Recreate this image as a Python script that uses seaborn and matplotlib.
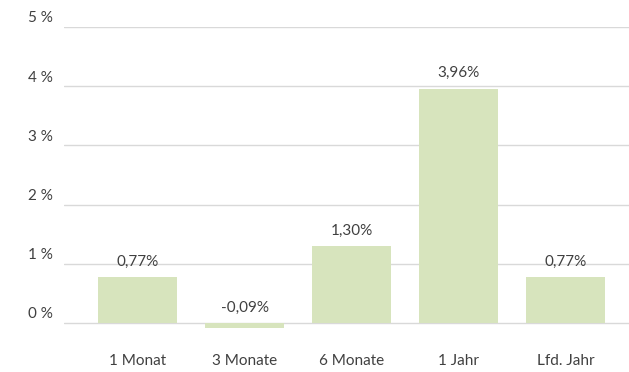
import matplotlib
matplotlib.use("Agg")
import matplotlib.pyplot as plt
from matplotlib.transforms import ScaledTranslation
import seaborn as sns
import pandas as pd

periods = ["1 Monat", "3 Monate", "6 Monate", "1 Jahr", "Lfd. Jahr"]
returns = [0.77, -0.09, 1.30, 3.96, 0.77]
y_ticks = [0, 1, 2, 3, 4, 5]

df = pd.DataFrame({"Zeitraum": periods, "Rendite": returns})

sns.set_theme(style="white")
plt.rcParams["font.family"] = ["Lato", "DejaVu Sans"]

text_color = "#404040"
bar_color = "#d7e4bd"
fs = 11

fig = plt.figure(figsize=(6.29, 3.72), dpi=100)
ax = fig.add_axes([64 / 629, 1 - 352.6 / 372, 1 - 64 / 629, (352.6 - 27) / 372])

sns.barplot(data=df, x="Zeitraum", y="Rendite", color=bar_color,
            saturation=1, width=0.74, linewidth=0, ax=ax, zorder=3)

ax.set_xlim(-0.687, 4.593)
ax.set_ylim(-0.5, 5)
ax.set_yticks(y_ticks)
ax.set_yticklabels([f"{t} %" for t in y_ticks])
ax.yaxis.grid(True, color="#d9d9d9", linewidth=1.0, zorder=0)
ax.set_axisbelow(True)
for s in ax.spines.values():
    s.set_visible(False)
ax.set_xlabel("")
ax.set_ylabel("")
ax.tick_params(axis="y", length=0, pad=8, labelsize=fs, labelcolor=text_color)
ax.tick_params(axis="x", length=0, pad=1.0, labelsize=fs, labelcolor=text_color)

# lift the y tick labels above their gridlines
shift = ScaledTranslation(0, 10 / 100, fig.dpi_scale_trans)
for lbl in ax.get_yticklabels():
    lbl.set_transform(lbl.get_transform() + shift)

# value labels above each bar
for i, v in enumerate(returns):
    txt = f"{v:.2f}".replace(".", ",") + "%"
    ax.annotate(txt, xy=(i, max(v, 0)), xytext=(0, 6), textcoords="offset points",
                ha="center", va="bottom", fontsize=fs, color=text_color)

fig.savefig("out.png", dpi=100)
